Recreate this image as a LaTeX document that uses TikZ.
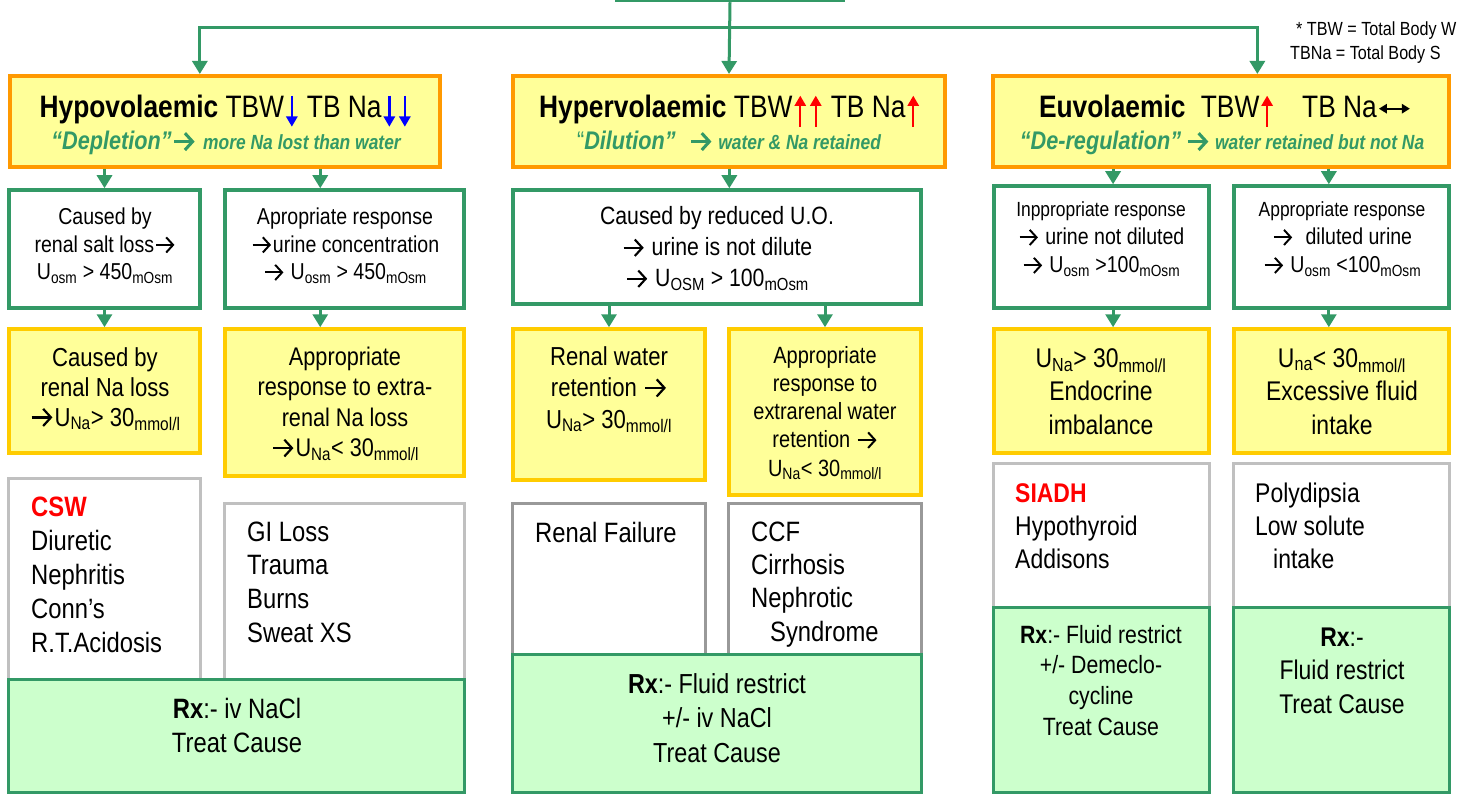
\documentclass[tikz,border=0pt]{standalone}
\usepackage{fontspec}
\setmainfont{Liberation Sans}[FakeStretch=0.85]
\usetikzlibrary{arrows.meta,fit,calc}
\definecolor{grn}{HTML}{339966}
\definecolor{org}{HTML}{FF9900}
\definecolor{yel}{HTML}{FFFF99}
\definecolor{gold}{HTML}{FFCC00}
\definecolor{lgray}{HTML}{C0C0C0}
\definecolor{dgray}{HTML}{999999}
\definecolor{rxg}{HTML}{CCFFCC}
\newlength\arrem
\newcommand\cTab[1]{\begin{tabular}[t]{@{}c@{}}#1\end{tabular}}
\newcommand\lTab[1]{\begin{tabular}[t]{@{}l@{}}#1\end{tabular}}
\newcommand\fsz[2]{\fontsize{#1}{#2}\selectfont}
\newcommand\subx[1]{\textsubscript{#1}}
\newcommand\mkd[2]{\edef#1{\the\dimexpr#2\arrem\relax}}
% right arrow drawn as a glyph
\newcommand\rarr[1][0.085]{\setlength\arrem{1em}\mkd\aL{0.3}\mkd\aW{0.66}\mkd\aS{0.8}\mkd\aB{-0.33}\mkd\aT{#1}%
  \hspace{0.04\arrem}\tikz[baseline=\aB]\draw[line width=\aT,-{Straight Barb[length=\aL,width=\aW]}] (0pt,0pt) -- (\aS,0pt);\hspace{0.04\arrem}}
% vertical arrows
\newcommand\vdn[1]{\setlength\arrem{1em}\mkd\aL{0.33}\mkd\aW{0.36}\mkd\aT{0.075}\mkd\aU{0.72}\mkd\aD{-0.28}%
  \hspace{0.07\arrem}\tikz[baseline=0pt]\draw[#1,line width=\aT,-{Triangle[length=\aL,width=\aW]}] (0pt,\aU) -- (0pt,\aD);\hspace{0.07\arrem}}
\newcommand\vup[1]{\setlength\arrem{1em}\mkd\aL{0.33}\mkd\aW{0.36}\mkd\aT{0.075}\mkd\aU{0.72}\mkd\aD{-0.28}%
  \hspace{0.07\arrem}\tikz[baseline=0pt]\draw[#1,line width=\aT,-{Triangle[length=\aL,width=\aW]}] (0pt,\aD) -- (0pt,\aU);\hspace{0.07\arrem}}
\newcommand\lrarr{\setlength\arrem{1em}\mkd\aL{0.26}\mkd\aW{0.3}\mkd\aT{0.07}\mkd\aS{1.0}\mkd\aB{-0.3}%
  \hspace{0.03\arrem}\tikz[baseline=\aB]\draw[line width=\aT,{Triangle[length=\aL,width=\aW]}-{Triangle[length=\aL,width=\aW]}] (0pt,0pt) -- (\aS,0pt);}
\begin{document}
\begin{tikzpicture}[x=1pt,y=-1pt,
  conn/.style={draw=grn, line width=3pt, -{Triangle[width=15pt,length=13pt]}},
  box/.style={rectangle, inner sep=0pt},
  hdr/.style={box, draw=org, fill=yel, line width=4pt},
  gbox/.style={box, draw=grn, fill=white, line width=3.5pt},
  ybox/.style={box, draw=gold, fill=yel, line width=3.5pt},
  lbox/.style={box, draw=lgray, fill=white, line width=3pt},
  dbox/.style={box, draw=dgray, fill=white, line width=3pt},
  rxbox/.style={box, draw=grn, fill=rxg, line width=3pt},
  txt/.style={anchor=base, inner sep=0pt},
  ltxt/.style={anchor=base west, inner sep=0pt}]
\useasboundingbox (0,0) rectangle (1458,794);
\fill[white] (0,0) rectangle (1458,794);

% top (cut off) box
\node[gbox, fit={(617,-40)(843,0.5)}] (top) {};

% header boxes
\node[hdr, fit={(10,76)(440,167)}] (hypoH) {};
\node[hdr, fit={(513,76)(945,167)}] (hyperH) {};
\node[hdr, fit={(993,76)(1449,167)}] (euH) {};

% row 2
\node[gbox, fit={(9,190)(200,308)}] (r2a) {};
\node[gbox, fit={(225,190)(464,308)}] (r2b) {};
\node[gbox, fit={(513,190)(921,304)}] (r2c) {};
\node[gbox, fit={(994,186)(1209,308)}] (r2e) {};
\node[gbox, fit={(1234,186)(1449,308)}] (r2f) {};

% row 3
\node[ybox, fit={(9,329)(200,453)}] (r3a) {};
\node[ybox, fit={(225,329)(464,476)}] (r3b) {};
\node[ybox, fit={(513,329)(705,480)}] (r3c) {};
\node[ybox, fit={(729,329)(921,495)}] (r3d) {};
\node[ybox, fit={(994,329)(1209,453)}] (r3e) {};
\node[ybox, fit={(1234,329)(1449,453)}] (r3f) {};

% row 4
\node[lbox, fit={(8.5,478.5)(200.5,680)}] (r4a) {};
\node[lbox, fit={(224.5,503.5)(464.5,680)}] (r4b) {};
\node[dbox, fit={(512.5,503.5)(705.5,655)}] (r4c) {};
\node[dbox, fit={(728.5,503.5)(921.5,655)}] (r4d) {};
\node[lbox, fit={(993.5,463.5)(1209.5,608)}] (r4e) {};
\node[lbox, fit={(1233.5,463.5)(1449.5,608)}] (r4f) {};

% Rx boxes
\node[rxbox, fit={(8.5,679.5)(464.5,792)}] (rxa) {};
\node[rxbox, fit={(512.5,654.5)(921.5,792)}] (rxc) {};
\node[rxbox, fit={(993.5,607.5)(1209.5,792)}] (rxe) {};
\node[rxbox, fit={(1233.5,607.5)(1449.5,792)}] (rxf) {};

% connector points
\coordinate (j) at (730,28);
\coordinate (aH1) at ($(hypoH.north west)!0.442!(hypoH.north east)$);
\coordinate (aH3) at ($(euH.north west)!0.579!(euH.north east)$);
\coordinate (a2b) at ($(r2b.north west)!0.40!(r2b.north east)$);
\coordinate (a2c) at ($(r2c.north west)!0.53!(r2c.north east)$);
\coordinate (a2e) at ($(r2e.north west)!0.553!(r2e.north east)$);
\coordinate (a2f) at ($(r2f.north west)!0.442!(r2f.north east)$);
\coordinate (a3b) at ($(r3b.north west)!0.40!(r3b.north east)$);
\coordinate (a3e) at ($(r3e.north west)!0.553!(r3e.north east)$);
\coordinate (a3f) at ($(r3f.north west)!0.442!(r3f.north east)$);

% connectors
\draw[conn] (top.south) -- (hyperH.north);
\draw[conn] (j) -| (aH1);
\draw[conn] (j) -| (aH3);
\draw[conn] (hypoH.south -| r2a.north) -- (r2a.north);
\draw[conn] (hypoH.south -| a2b) -- (a2b);
\draw[conn] (hyperH.south -| a2c) -- (a2c);
\draw[conn] (euH.south -| a2e) -- (a2e);
\draw[conn] (euH.south -| a2f) -- (a2f);
\draw[conn] (r2a.south -| r3a.north) -- (r3a.north);
\draw[conn] (r2b.south -| a3b) -- (a3b);
\draw[conn] (r2c.south -| r3c.north) -- (r3c.north);
\draw[conn] (r2c.south -| r3d.north) -- (r3d.north);
\draw[conn] (r2e.south -| a3e) -- (a3e);
\draw[conn] (r2f.south -| a3f) -- (a3f);

% footnote (cut off by the right edge in the reference)
\node[ltxt] (fn1) at (1296,36) {\fsz{19}{23}* TBW = Total Body W};
\node[ltxt] (fn2) at (1290,60) {\fsz{19}{23}TBNa = Total Body S};

% header texts
\node[txt] (t1a) at (225,118) {\fsz{31}{35}\textbf{Hypovolaemic} TBW\vdn{blue} TB Na\vdn{blue}\vdn{blue}};
\node[txt] (t1b) at (226,150) {\color{grn}\bfseries\itshape\fsz{25.5}{28}“Depletion”\rarr[0.12] \fsz{20.5}{24}more Na lost than water};
\node[txt] (t1c) at (729,118) {\fsz{31}{35}\textbf{Hypervolaemic} TBW\vup{red}\vup{red} TB Na\vup{red}};
\node[txt] (t1d) at (729,150) {\color{grn}\bfseries\fsz{25.5}{28}{\mdseries“}\itshape Dilution”\enspace\rarr[0.12]\,\fsz{20.5}{24}water \& Na retained};
\node[txt] (t1e) at (1225,118) {\fsz{31}{35}\textbf{Euvolaemic}\hspace{8pt} TBW\vup{red}\hspace{20pt} TB Na\lrarr};
\node[txt] (t1f) at (1222,150) {\color{grn}\bfseries\itshape\fsz{25.5}{28}“De-regulation”\,\rarr[0.12]\,\fsz{20.5}{24}water retained but not Na};

% row 2 texts
\node[txt] (t2a) at (105,225) {\fsz{23}{27.5}\cTab{Caused by\\renal salt loss\rarr\\U\subx{osm} > 450\subx{mOsm}}};
\node[txt] (t2b) at (345,225) {\fsz{23}{27.5}\cTab{Apropriate response\\\rarr urine concentration\\\rarr\ U\subx{osm} > 450\subx{mOsm}}};
\node[txt] (t2c) at (717,225) {\fsz{25}{31}\cTab{Caused by reduced U.O.\\\rarr\ urine is not dilute\\\rarr\ U\subx{OSM} > 100\subx{mOsm}}};
\node[txt] (t2e) at (1101,217) {\fsz{23}{28}\cTab{{\fsz{20.5}{28}Inppropriate response}\\\rarr\ urine not diluted\\\rarr\ U\subx{osm} >100\subx{mOsm}}};
\node[txt] (t2f) at (1342,217) {\fsz{23}{28}\cTab{{\fsz{20.5}{28}Appropriate response}\\\rarr\enspace diluted urine\\\rarr\ U\subx{osm} <100\subx{mOsm}}};

% row 3 texts
\node[txt] (t3a) at (105,366) {\fsz{26}{30}\cTab{Caused by\\renal Na loss\\\rarr U\subx{Na}> 30\subx{mmol/l}}};
\node[txt] (t3b) at (345,365) {\fsz{25.5}{30.5}\cTab{Appropriate\\response to extra-\\renal Na loss\\\rarr U\subx{Na}< 30\subx{mmol/l}}};
\node[txt] (t3c) at (609,365) {\fsz{26}{31.5}\cTab{Renal water\\retention \rarr\\U\subx{Na}> 30\subx{mmol/l}}};
\node[txt] (t3d) at (825,363) {\fsz{23.5}{28.3}\cTab{Appropriate\\response to\\extrarenal water\\retention \rarr\\U\subx{Na}< 30\subx{mmol/l}}};
\node[txt] (t3e) at (1101,367) {\fsz{27}{33.5}\cTab{U\subx{Na}> 30\subx{mmol/l}\\Endocrine\\imbalance}};
\node[txt] (t3f) at (1342,367) {\fsz{27}{33.5}\cTab{U\subx{na}< 30\subx{mmol/l}\\Excessive fluid\\intake}};

% row 4 texts
\node[ltxt] (t4a) at (31,516) {\fsz{28}{34}\lTab{{\color{red}\bfseries CSW}\\Diuretic\\Nephritis\\Conn’s\\R.T.Acidosis}};
\node[ltxt] (t4b) at (247,541) {\fsz{28}{33.7}\lTab{GI Loss\\Trauma\\Burns\\Sweat XS}};
\node[ltxt] (t4c) at (535,542) {\fsz{28}{34}Renal Failure};
\node[ltxt] (t4d) at (751,541) {\fsz{28}{33.4}\lTab{CCF\\Cirrhosis\\Nephrotic\\\hspace{19pt}Syndrome}};
\node[ltxt] (t4e) at (1015,502) {\fsz{27}{33}\lTab{{\color{red}\bfseries SIADH}\\Hypothyroid\\Addisons}};
\node[ltxt] (t4f) at (1255,502) {\fsz{27}{33}\lTab{Polydipsia\\Low solute\\\hspace{18pt}intake}};

% Rx texts
\node[txt] (txa) at (237,718) {\fsz{28}{34}\cTab{\textbf{Rx}:- iv NaCl\\Treat Cause}};
\node[txt] (txc) at (717,693) {\fsz{27.5}{34.5}\cTab{\textbf{Rx}:- Fluid restrict\\+/- iv NaCl\\Treat Cause}};
\node[txt] (txe) at (1101,643) {\fsz{25}{30.7}\cTab{\textbf{Rx}:- Fluid restrict\\+/- Demeclo-\\cycline\\Treat Cause}};
\node[txt] (txf) at (1342,646) {\fsz{27}{33.5}\cTab{\textbf{Rx}:-\\Fluid restrict\\Treat Cause}};
\end{tikzpicture}
\end{document}
